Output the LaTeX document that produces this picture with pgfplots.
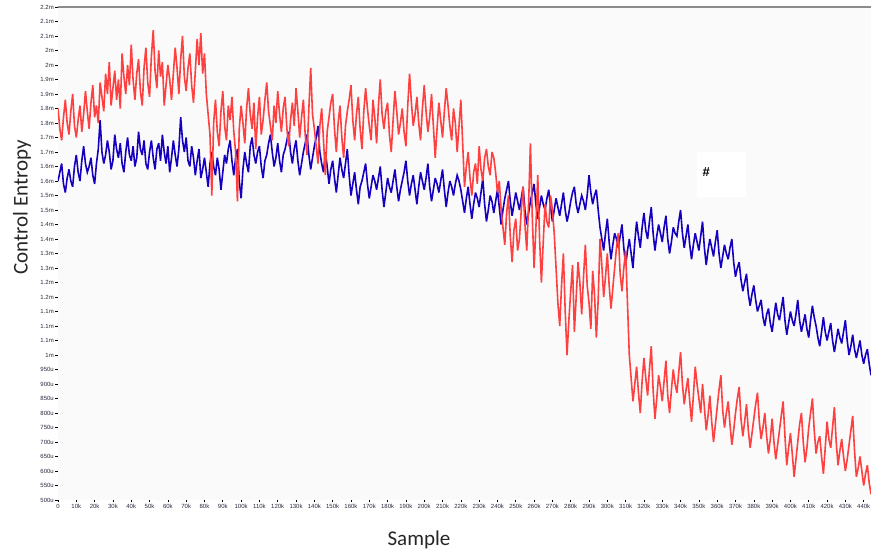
\documentclass[border=0pt]{standalone}
\usepackage{fontspec}
\setmainfont{Liberation Sans}
\newfontfamily\calib{Carlito}
\usepackage{pgfplots}
\usepackage{pgfplotstable}
\pgfplotsset{compat=1.18}
\usetikzlibrary{calc}
\definecolor{redline}{RGB}{255,64,64}
\definecolor{blueline}{RGB}{22,0,192}
\definecolor{plotbg}{RGB}{250,250,250}
\definecolor{ticktext}{RGB}{40,40,60}

% x in thousands of samples, y in milli
\pgfplotstableread{
x y
0 1.85
1 1.78
2 1.74
3 1.82
4 1.88
5 1.80
6 1.76
7 1.84
8 1.90
9 1.79
10 1.75
11 1.81
12 1.86
13 1.77
14 1.83
15 1.91
16 1.84
17 1.78
18 1.87
19 1.93
20 1.82
21 1.86
22 1.80
23 1.94
24 1.89
25 1.84
26 1.97
27 1.90
28 2.01
29 1.86
30 1.92
31 1.98
32 1.88
33 1.95
34 1.85
35 2.04
36 1.96
37 1.90
38 2.00
39 1.93
40 2.07
41 1.95
42 1.88
43 1.97
44 2.02
45 1.91
46 1.86
47 1.99
48 2.06
49 1.94
50 1.89
51 2.03
52 2.12
53 1.98
54 1.92
55 2.05
56 1.96
57 2.01
58 1.86
59 1.93
60 2.00
61 1.95
62 1.88
63 1.97
64 2.06
65 1.99
66 1.90
67 2.02
68 2.10
69 1.96
70 1.91
71 1.99
72 2.04
73 1.93
74 1.87
75 1.98
76 2.09
77 2.00
78 2.11
79 1.97
80 2.04
81 1.90
82 1.83
83 1.76
84 1.55
85 1.80
86 1.88
87 1.77
88 1.72
89 1.84
90 1.91
91 1.79
92 1.74
93 1.86
94 1.81
95 1.89
96 1.77
97 1.70
98 1.53
99 1.78
100 1.86
101 1.80
102 1.73
103 1.85
104 1.92
105 1.83
106 1.78
107 1.87
108 1.71
109 1.82
110 1.89
111 1.76
112 1.81
113 1.88
114 1.94
115 1.84
116 1.79
117 1.74
118 1.86
119 1.80
120 1.91
121 1.83
122 1.77
123 1.85
124 1.89
125 1.78
126 1.72
127 1.81
128 1.87
129 1.79
130 1.92
131 1.84
132 1.75
133 1.82
134 1.88
135 1.76
136 1.69
137 1.85
138 1.99
139 1.83
140 1.78
141 1.72
142 1.66
143 1.79
144 1.85
145 1.74
146 1.62
147 1.77
148 1.82
149 1.87
150 1.90
151 1.78
152 1.70
153 1.80
154 1.86
155 1.75
156 1.68
157 1.79
158 1.84
159 1.88
160 1.93
161 1.81
162 1.74
163 1.83
164 1.89
165 1.78
166 1.71
167 1.84
168 1.92
169 1.85
170 1.79
171 1.74
172 1.88
173 1.82
174 1.73
175 1.86
176 1.95
177 1.83
178 1.78
179 1.84
180 1.87
181 1.76
182 1.70
183 1.81
184 1.91
185 1.84
186 1.76
187 1.80
188 1.85
189 1.77
190 1.72
191 1.86
192 1.97
193 1.87
194 1.79
195 1.83
196 1.89
197 1.80
198 1.74
199 1.85
200 1.93
201 1.84
202 1.77
203 1.82
204 1.90
205 1.79
206 1.68
207 1.78
208 1.87
209 1.81
210 1.75
211 1.84
212 1.92
213 1.86
214 1.79
215 1.74
216 1.85
217 1.80
218 1.70
219 1.79
220 1.88
221 1.73
222 1.58
223 1.65
224 1.70
225 1.61
226 1.55
227 1.63
228 1.66
229 1.59
230 1.72
231 1.64
232 1.60
233 1.68
234 1.71
235 1.65
236 1.62
237 1.70
238 1.68
239 1.63
240 1.56
241 1.60
242 1.50
243 1.44
244 1.38
245 1.49
246 1.55
247 1.41
248 1.32
249 1.43
250 1.47
251 1.36
252 1.40
253 1.50
254 1.58
255 1.45
256 1.36
257 1.52
258 1.73
259 1.48
260 1.30
261 1.44
262 1.62
263 1.40
264 1.25
265 1.39
266 1.52
267 1.46
268 1.44
269 1.55
270 1.50
271 1.42
272 1.30
273 1.18
274 1.10
275 1.24
276 1.35
277 1.15
278 1.00
279 1.12
280 1.22
281 1.31
282 1.08
283 1.20
284 1.32
285 1.25
286 1.14
287 1.27
288 1.38
289 1.24
290 1.18
291 1.09
292 1.29
293 1.21
294 1.06
295 1.19
296 1.40
297 1.31
298 1.20
299 1.27
300 1.35
301 1.24
302 1.16
303 1.23
304 1.30
305 1.37
306 1.42
307 1.28
308 1.22
309 1.30
310 1.36
311 1.18
312 1.00
313 0.92
314 0.84
315 0.90
316 0.96
317 0.87
318 0.80
319 0.91
320 0.99
321 0.92
322 0.86
323 0.95
324 1.03
325 0.88
326 0.78
327 0.85
328 0.93
329 0.89
330 0.84
331 0.91
332 0.98
333 0.86
334 0.80
335 0.88
336 0.95
337 0.90
338 0.87
339 0.94
340 1.01
341 0.90
342 0.83
343 0.88
344 0.92
345 0.84
346 0.77
347 0.86
348 0.96
349 0.90
350 0.85
351 0.80
352 0.90
353 0.82
354 0.74
355 0.79
356 0.86
357 0.77
358 0.70
359 0.76
360 0.82
361 0.88
362 0.93
363 0.81
364 0.75
365 0.80
366 0.84
367 0.76
368 0.69
369 0.74
370 0.80
371 0.85
372 0.89
373 0.78
374 0.72
375 0.77
376 0.83
377 0.74
378 0.68
379 0.73
380 0.78
381 0.83
382 0.87
383 0.77
384 0.71
385 0.75
386 0.80
387 0.72
388 0.66
389 0.71
390 0.78
391 0.70
392 0.64
393 0.69
394 0.74
395 0.79
396 0.84
397 0.72
398 0.62
399 0.68
400 0.73
401 0.66
402 0.58
403 0.64
404 0.70
405 0.76
406 0.80
407 0.70
408 0.63
409 0.68
410 0.75
411 0.80
412 0.85
413 0.74
414 0.66
415 0.70
416 0.72
417 0.65
418 0.59
419 0.68
420 0.77
421 0.71
422 0.68
423 0.75
424 0.82
425 0.70
426 0.62
427 0.67
428 0.71
429 0.65
430 0.60
431 0.64
432 0.69
433 0.74
434 0.79
435 0.67
436 0.58
437 0.61
438 0.65
439 0.60
440 0.55
441 0.59
442 0.62
443 0.56
444 0.52
}\redtable

\pgfplotstableread{
x y
0 1.60
1 1.63
2 1.66
3 1.59
4 1.56
5 1.61
6 1.64
7 1.60
8 1.58
9 1.65
10 1.69
11 1.63
12 1.60
13 1.67
14 1.72
15 1.66
16 1.63
17 1.65
18 1.68
19 1.62
20 1.59
21 1.66
22 1.71
23 1.81
24 1.70
25 1.66
26 1.69
27 1.74
28 1.70
29 1.64
30 1.67
31 1.76
32 1.71
33 1.68
34 1.73
35 1.66
36 1.63
37 1.70
38 1.75
39 1.69
40 1.67
41 1.72
42 1.65
43 1.68
44 1.77
45 1.71
46 1.69
47 1.74
48 1.66
49 1.64
50 1.70
51 1.74
52 1.68
53 1.64
54 1.71
55 1.73
56 1.67
57 1.76
58 1.70
59 1.66
60 1.72
61 1.63
62 1.68
63 1.74
64 1.69
65 1.65
66 1.71
67 1.82
68 1.74
69 1.70
70 1.75
71 1.67
72 1.65
73 1.72
74 1.68
75 1.62
76 1.67
77 1.71
78 1.61
79 1.64
80 1.68
81 1.63
82 1.58
83 1.66
84 1.70
85 1.65
86 1.62
87 1.68
88 1.64
89 1.57
90 1.63
91 1.69
92 1.66
93 1.71
94 1.74
95 1.67
96 1.62
97 1.68
98 1.71
99 1.60
100 1.54
101 1.64
102 1.70
103 1.66
104 1.63
105 1.72
106 1.75
107 1.69
108 1.66
109 1.70
110 1.72
111 1.65
112 1.61
113 1.67
114 1.69
115 1.73
116 1.76
117 1.70
118 1.65
119 1.68
120 1.73
121 1.67
122 1.63
123 1.69
124 1.71
125 1.74
126 1.77
127 1.70
128 1.66
129 1.71
130 1.74
131 1.67
132 1.62
133 1.66
134 1.70
135 1.73
136 1.76
137 1.69
138 1.64
139 1.68
140 1.72
141 1.75
142 1.79
143 1.70
144 1.66
145 1.63
146 1.70
147 1.65
148 1.59
149 1.64
150 1.67
151 1.61
152 1.56
153 1.62
154 1.68
155 1.64
156 1.61
157 1.66
158 1.71
159 1.62
160 1.55
161 1.59
162 1.63
163 1.57
164 1.52
165 1.58
166 1.60
167 1.63
168 1.66
169 1.59
170 1.54
171 1.58
172 1.62
173 1.60
174 1.57
175 1.61
176 1.65
177 1.57
178 1.51
179 1.56
180 1.61
181 1.58
182 1.56
183 1.60
184 1.64
185 1.58
186 1.53
187 1.57
188 1.60
189 1.63
190 1.67
191 1.60
192 1.55
193 1.59
194 1.62
195 1.57
196 1.52
197 1.58
198 1.63
199 1.60
200 1.57
201 1.61
202 1.66
203 1.58
204 1.53
205 1.57
206 1.61
207 1.59
208 1.56
209 1.60
210 1.64
211 1.57
212 1.51
213 1.56
214 1.60
215 1.58
216 1.55
217 1.59
218 1.62
219 1.60
220 1.57
221 1.53
222 1.49
223 1.54
224 1.58
225 1.52
226 1.47
227 1.52
228 1.56
229 1.54
230 1.51
231 1.56
232 1.61
233 1.52
234 1.46
235 1.50
236 1.55
237 1.53
238 1.49
239 1.53
240 1.57
241 1.51
242 1.45
243 1.50
244 1.54
245 1.57
246 1.60
247 1.53
248 1.48
249 1.52
250 1.56
251 1.53
252 1.50
253 1.54
254 1.58
255 1.50
256 1.45
257 1.49
258 1.53
259 1.56
260 1.59
261 1.52
262 1.47
263 1.51
264 1.55
265 1.52
266 1.50
267 1.54
268 1.57
269 1.51
270 1.46
271 1.50
272 1.54
273 1.51
274 1.48
275 1.52
276 1.56
277 1.50
278 1.46
279 1.49
280 1.53
281 1.56
282 1.58
283 1.52
284 1.49
285 1.52
286 1.55
287 1.53
288 1.50
289 1.55
290 1.62
291 1.56
292 1.52
293 1.55
294 1.57
295 1.50
296 1.44
297 1.40
298 1.36
299 1.42
300 1.47
301 1.39
302 1.33
303 1.38
304 1.42
305 1.40
306 1.37
307 1.41
308 1.45
309 1.37
310 1.31
311 1.36
312 1.40
313 1.35
314 1.30
315 1.39
316 1.46
317 1.41
318 1.37
319 1.44
320 1.49
321 1.43
322 1.40
323 1.46
324 1.51
325 1.42
326 1.36
327 1.41
328 1.45
329 1.42
330 1.39
331 1.44
332 1.48
333 1.40
334 1.35
335 1.39
336 1.44
337 1.42
338 1.41
339 1.46
340 1.50
341 1.42
342 1.37
343 1.41
344 1.45
345 1.38
346 1.33
347 1.38
348 1.42
349 1.39
350 1.36
351 1.41
352 1.46
353 1.37
354 1.31
355 1.36
356 1.40
357 1.37
358 1.34
359 1.39
360 1.43
361 1.35
362 1.30
363 1.34
364 1.38
365 1.35
366 1.33
367 1.37
368 1.40
369 1.32
370 1.27
371 1.30
372 1.32
373 1.26
374 1.22
375 1.25
376 1.28
377 1.21
378 1.17
379 1.21
380 1.24
381 1.19
382 1.15
383 1.17
384 1.19
385 1.13
386 1.10
387 1.14
388 1.16
389 1.11
390 1.08
391 1.13
392 1.18
393 1.14
394 1.12
395 1.16
396 1.20
397 1.12
398 1.07
399 1.11
400 1.15
401 1.12
402 1.10
403 1.14
404 1.19
405 1.12
406 1.08
407 1.11
408 1.14
409 1.09
410 1.06
411 1.12
412 1.17
413 1.13
414 1.10
415 1.06
416 1.03
417 1.08
418 1.13
419 1.08
420 1.05
421 1.08
422 1.11
423 1.05
424 1.01
425 1.05
426 1.09
427 1.06
428 1.04
429 1.08
430 1.12
431 1.05
432 1.00
433 1.03
434 1.07
435 1.02
436 0.99
437 1.02
438 1.05
439 1.00
440 0.97
441 1.00
442 1.02
443 0.97
444 0.93
}\bluetable

\begin{document}
\begin{tikzpicture}
\begin{axis}[
  name=ax,
  scale only axis,
  width=813pt, height=493pt,
  xmin=0, xmax=444,
  ymin=0.5, ymax=2.2,
  axis background/.style={fill=plotbg},
  axis line style={draw=none},
  tick align=outside,
  major tick length=2.5pt,
  tick style={black, line width=0.6pt},
  xtick pos=bottom, ytick pos=left,
  xtick={0,10,...,440},
  xticklabels={0,10k,20k,30k,40k,50k,60k,70k,80k,90k,100k,110k,120k,130k,140k,150k,160k,170k,180k,190k,200k,210k,220k,230k,240k,250k,260k,270k,280k,290k,300k,310k,320k,330k,340k,350k,360k,370k,380k,390k,400k,410k,420k,430k,440k},
  ytick={0.5,0.55,0.6,0.65,0.7,0.75,0.8,0.85,0.9,0.95,1.0,1.05,1.1,1.15,1.2,1.25,1.3,1.35,1.4,1.45,1.5,1.55,1.6,1.65,1.7,1.75,1.8,1.85,1.9,1.95,2.0,2.05,2.1,2.15,2.2},
  yticklabels={500u,550u,600u,650u,700u,750u,800u,850u,900u,950u,1m,1.1m,1.1m,1.1m,1.2m,1.2m,1.3m,1.3m,1.4m,1.4m,1.5m,1.5m,1.6m,1.6m,1.7m,1.7m,1.8m,1.8m,1.9m,1.9m,2m,2m,2.1m,2.1m,2.2m},
  ticklabel style={font=\fontsize{6}{7}\selectfont, text=ticktext},
  xticklabel style={inner sep=1.5pt},
  yticklabel style={inner sep=1.5pt},
  /pgf/number format/assume math mode=true,
  clip=true,
]
\addplot[blueline, line width=1.6pt, line join=miter, miter limit=4] table[x=x,y=y] {\bluetable};
\addplot[redline, line width=1.6pt, line join=miter, miter limit=4] table[x=x,y=y] {\redtable};
\draw[black!15, line width=0.8pt] (rel axis cs:0,0) -- (rel axis cs:1,0);
\draw[black!45, line width=1.2pt] (rel axis cs:0,1) -- (rel axis cs:1,1);
\fill[white] (axis cs:349,1.545) rectangle (axis cs:376,1.70);
\node[font=\bfseries\fontsize{13}{14}\selectfont] at (axis cs:354,1.63) {\#};
\end{axis}
\node[rotate=90, font=\calib\fontsize{21}{24}\selectfont, text=black!85] at ($(ax.south west)!0.594!(ax.north west)+(-36pt,0)$) {Control Entropy};
\node[font=\calib\fontsize{21}{24}\selectfont, text=black!85] at ($(ax.south west)!0.444!(ax.south east)+(0,-40pt)$) {Sample};
\pgfresetboundingbox
\path ($(ax.south west)+(-58pt,-50pt)$) rectangle ($(ax.north east)+(0pt,7pt)$);
\end{tikzpicture}
\end{document}
